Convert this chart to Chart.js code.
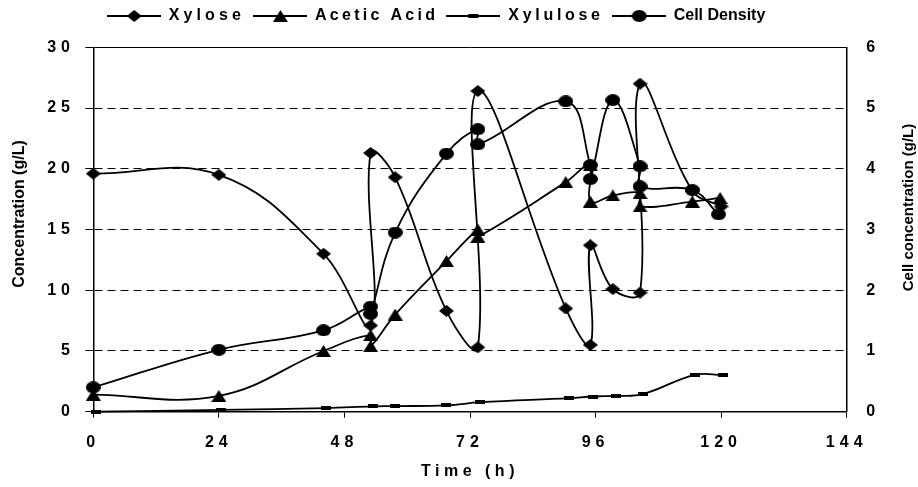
<!DOCTYPE html>
<html>
<head>
<meta charset="utf-8">
<script src="https://cdn.jsdelivr.net/npm/chart.js@4.4.0/dist/chart.umd.min.js"></script>
<style>
  html, body { margin: 0; padding: 0; background: #fff; }
  canvas { display: block; }
</style>
</head>
<body>
<canvas id="chart" width="918" height="487"></canvas>
<script>
// sample times (h); a repeated time is the value before / after a feed
const xyloseTime = [0, 24, 44, 53, 53, 57.7, 67.5, 73.5, 73.5, 90.3, 95, 95, 99.3, 104.5, 104.5, 114.5, 120];
const xyloseConc = [19.6, 19.5, 13.0, 7.1, 21.3, 19.3, 8.3, 5.3, 26.4, 8.5, 5.5, 13.7, 10.1, 9.8, 27.0, 18.2, 16.9];
const aceticTime = [0, 24, 44, 53, 53, 57.7, 67.5, 73.5, 73.5, 90.3, 95, 95, 99.3, 104.5, 104.5, 114.5, 119.8];
const aceticConc = [1.4, 1.3, 5.0, 6.3, 5.4, 8.0, 12.4, 15.0, 14.4, 18.9, 20.3, 17.3, 17.8, 18.0, 16.9, 17.3, 17.6];
const xyluloseTime = [0.5, 24.5, 44.5, 53.5, 57.7, 67.5, 74, 91, 95.5, 100, 105, 115, 120.3];
const xyluloseConc = [0, 0.15, 0.3, 0.44, 0.46, 0.52, 0.78, 1.12, 1.25, 1.3, 1.45, 3.04, 3.02];
const cellTime = [0, 24, 44, 53, 53, 57.7, 67.5, 73.5, 73.5, 90.3, 95, 95, 99.3, 104.5, 104.5, 114.5, 119.5];
const cellDensity = [0.40, 1.02, 1.34, 1.73, 1.61, 2.95, 4.25, 4.65, 4.40, 5.11, 4.06, 3.83, 5.13, 4.04, 3.71, 3.65, 3.25];

const seriesNames = ['Xylose', 'Acetic Acid', 'Xylulose', 'Cell Density'];
const seriesMarkers = ['diamond', 'triangle', 'dash', 'circle'];
const xTitle = 'Time (h)';
const leftTitle = 'Concentration (g/L)';
const rightTitle = 'Cell concentration (g/L)';

const FONT = "'Liberation Sans', Arial, Helvetica, sans-serif";
const spacing = { ticks: '5px', xTitle: '4.5px' };
// the legend texts are not spaced alike in the original
const legendSpacing = { 'Xylose': '4.1px', 'Acetic Acid': '3.3px', 'Xylulose': '3.7px', 'Cell Density': '0px' };
const legendHeight = 47.3;
const legendShift = -23;

// excel-like markers (a bit wider than tall)
function marker(kind) {
  const c = document.createElement('canvas');
  const w = kind === 'dash' ? 10 : 15;
  const h = kind === 'dash' ? 4 : 12;
  c.width = w; c.height = h;
  const g = c.getContext('2d');
  g.fillStyle = '#000';
  g.beginPath();
  if (kind === 'diamond') {
    g.moveTo(w / 2, 0); g.lineTo(w, h / 2); g.lineTo(w / 2, h); g.lineTo(0, h / 2);
  } else if (kind === 'triangle') {
    g.moveTo(w / 2, 0); g.lineTo(w, h); g.lineTo(0, h);
  } else if (kind === 'circle') {
    g.ellipse(w / 2, h / 2, w / 2, h / 2, 0, 0, Math.PI * 2);
  } else {
    g.rect(0, 0, w, h);
  }
  g.closePath();
  g.fill();
  return c;
}

function legendIcon(kind) {
  const c = document.createElement('canvas');
  c.width = 54; c.height = 14;
  const g = c.getContext('2d');
  g.strokeStyle = '#000';
  g.lineWidth = 2;
  g.beginPath(); g.moveTo(0, 7); g.lineTo(54, 7); g.stroke();
  const m = marker(kind);
  g.drawImage(m, Math.round((54 - m.width) / 2), Math.round((14 - m.height) / 2));
  return c;
}

function points(xs, ys) {
  return xs.map((x, i) => ({ x: x, y: ys[i] }));
}

function series(i, data, axis) {
  return {
    label: seriesNames[i],
    data: data,
    yAxisID: axis,
    showLine: true,
    borderColor: '#000',
    backgroundColor: '#000',
    borderWidth: 1.8,
    tension: 0.4,
    pointStyle: marker(seriesMarkers[i]),
    pointRadius: 7,
    clip: false
  };
}

function withSpacing(ctx, sp, fn) {
  const prev = ctx.letterSpacing;
  ctx.letterSpacing = sp;
  fn();
  ctx.letterSpacing = prev;
}

// per legend text spacing, both when measured and when drawn
function withLegendSpacing(ctx, fn) {
  const fill = ctx.fillText, measure = ctx.measureText;
  ctx.fillText = function (t, x, y, mw) {
    this.letterSpacing = legendSpacing[t] || '0px';
    return mw === undefined ? fill.call(this, t, x, y) : fill.call(this, t, x, y, mw);
  };
  ctx.measureText = function (t) {
    this.letterSpacing = legendSpacing[t] || '0px';
    return measure.call(this, t);
  };
  try { fn(); } finally {
    delete ctx.fillText;
    delete ctx.measureText;
    ctx.letterSpacing = '0px';
  }
}

const tweaks = {
  id: 'tweaks',
  beforeLayout(chart) {
    const ctx = chart.ctx;
    const legend = chart.legend;
    if (legend && !legend._patched) {
      const fit = legend.fit, draw = legend.draw;
      legend.fit = function () {
        withLegendSpacing(ctx, () => fit.call(this));
        this.height = legendHeight;
      };
      legend.draw = function () { withLegendSpacing(ctx, () => draw.call(this)); };
      legend._patched = true;
    }
    Object.values(chart.scales).forEach(scale => {
      if (scale._patched) return;
      const drawLabels = scale.drawLabels, drawTitle = scale.drawTitle;
      scale.drawLabels = function (area) { withSpacing(ctx, spacing.ticks, () => drawLabels.call(this, area)); };
      scale.drawTitle = function () { withSpacing(ctx, spacing.xTitle, () => drawTitle.call(this)); };
      scale._patched = true;
    });
  },
  afterLayout(chart) {
    chart.legend.left += legendShift;
    chart.legend.right += legendShift;
  },
  afterDraw(chart) {
    // both y titles read bottom-to-top in the original
    const ctx = chart.ctx;
    const drawY = (text, size, x, y) => {
      ctx.save();
      ctx.letterSpacing = '0px';
      ctx.translate(x, y);
      ctx.rotate(-Math.PI / 2);
      ctx.font = 'bold ' + size + 'px ' + FONT;
      ctx.fillStyle = '#000';
      ctx.textAlign = 'center';
      ctx.textBaseline = 'alphabetic';
      ctx.fillText(text, 0, 0);
      ctx.restore();
    };
    drawY(leftTitle, 16, 24, 214);
    drawY(rightTitle, 15, 913, 207.5);
  }
};

const legendIcons = seriesMarkers.map(legendIcon);
const tickFont = { family: FONT, size: 16, weight: 'bold' };

new Chart(document.getElementById('chart'), {
  type: 'scatter',
  data: {
    datasets: [
      series(0, points(xyloseTime, xyloseConc), 'y'),
      series(1, points(aceticTime, aceticConc), 'y'),
      series(2, points(xyluloseTime, xyluloseConc), 'y'),
      series(3, points(cellTime, cellDensity), 'y1')
    ]
  },
  options: {
    responsive: false,
    animation: false,
    devicePixelRatio: 1,
    events: [],
    layout: { padding: 0 },
    scales: {
      x: {
        type: 'linear',
        min: 0, max: 144,
        ticks: { stepSize: 24, color: '#000', font: tickFont, padding: 15, maxRotation: 0 },
        grid: { drawOnChartArea: false, tickLength: 6, tickColor: '#000', tickWidth: 1 },
        border: { color: '#000', width: 1.5 },
        title: { display: true, text: xTitle, color: '#000', font: tickFont, padding: { top: 0, bottom: 6 } },
        afterFit: s => { s.height = 75.3; }
      },
      y: {
        position: 'left',
        min: 0, max: 30,
        ticks: { stepSize: 5, color: '#000', font: tickFont, padding: 10.3 },
        grid: { color: '#000', lineWidth: 1, tickLength: 8, tickColor: '#000', tickWidth: 1 },
        border: {
          color: '#000', width: 1.5,
          dash: c => (c.tick && c.tick.value > 0 && c.tick.value < 30) ? [8, 5] : []
        },
        afterFit: s => { s.width = 93.3; }
      },
      y1: {
        position: 'right',
        min: 0, max: 6,
        ticks: { stepSize: 1, color: '#000', font: tickFont, padding: 11.5 },
        grid: { display: false },
        border: { color: '#000', width: 1.5 },
        afterFit: s => { s.width = 71.3; }
      }
    },
    plugins: {
      tooltip: { enabled: false },
      legend: {
        position: 'top',
        labels: {
          usePointStyle: true,
          pointStyleWidth: 54,
          boxHeight: 16,
          padding: 8,
          color: '#000',
          font: { family: FONT, size: 16, weight: 'bold' },
          generateLabels: chart => chart.data.datasets.map((ds, i) => ({
            text: ds.label,
            pointStyle: legendIcons[i],
            fillStyle: '#000',
            strokeStyle: '#000',
            fontColor: '#000',
            lineWidth: 0,
            hidden: false,
            datasetIndex: i
          }))
        }
      }
    }
  },
  plugins: [tweaks]
});
</script>
</body>
</html>
